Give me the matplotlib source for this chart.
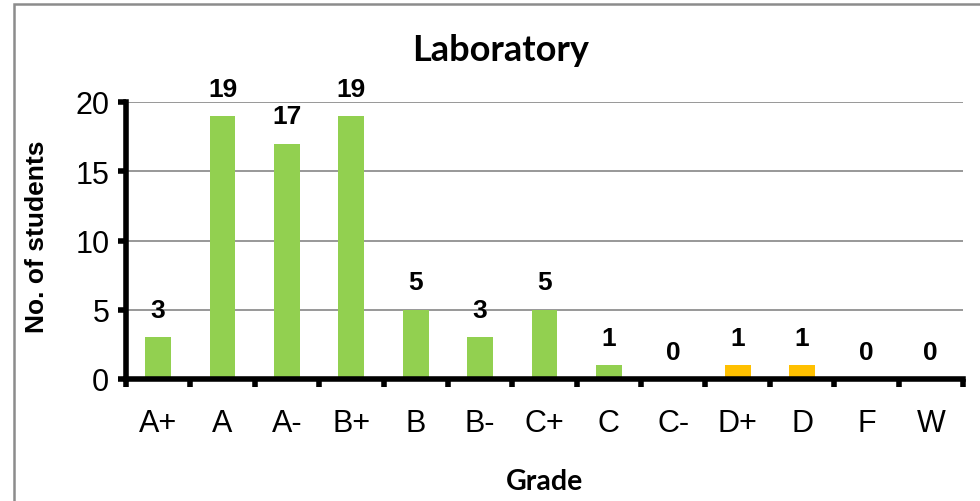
import matplotlib
matplotlib.use("Agg")
import matplotlib.pyplot as plt
from matplotlib.patches import Rectangle
import numpy as np

grades = ["A+", "A", "A-", "B+", "B", "B-", "C+", "C", "C-", "D+", "D", "F", "W"]
students = [3, 19, 17, 19, 5, 3, 5, 1, 0, 1, 1, 0, 0]
bar_colors = ["#92D050"] * 9 + ["#FFC000", "#FFC000"] + ["#92D050", "#92D050"]
yticks = [0, 5, 10, 15, 20]

fig = plt.figure(figsize=(9.8, 5.02), dpi=100)
fig.patch.set_facecolor("white")
fig.patches.append(Rectangle((13.5 / 980, -0.05), 1.2, 1.05 - 4.5 / 502,
                             transform=fig.transFigure, fill=False,
                             edgecolor="#8c8c8c", linewidth=1.8))

ax = fig.add_axes([126 / 980, 1 - 380 / 502, (963 - 126) / 980, (380 - 103) / 502])
x = np.arange(len(grades))
ax.bar(x, students, width=0.40, color=bar_colors, zorder=3)
ax.set_xlim(-0.5, len(grades) - 0.5)
ax.set_ylim(0, 20)

for xi, v in zip(x, students):
    ax.annotate(str(v), (xi, v), xytext=(0, 11), textcoords="offset points",
                ha="center", va="bottom", fontsize=19, fontweight="bold",
                family="Liberation Sans", zorder=4)

ax.set_yticks(yticks)
ax.set_yticklabels([str(t) for t in yticks], fontsize=22, family="Liberation Sans")
ax.yaxis.grid(True, color="#868686", linewidth=1.2, zorder=0)
ax.set_axisbelow(True)

ax.set_xticks(np.arange(-0.5, len(grades), 1.0))
ax.set_xticklabels([])
ax.set_xticks(x, minor=True)
ax.set_xticklabels(grades, minor=True, fontsize=22, family="Liberation Sans")
ax.tick_params(axis="x", which="minor", length=0, pad=21)
ax.tick_params(axis="x", which="major", length=6, width=4, direction="out", color="black")
ax.tick_params(axis="y", which="major", length=6, width=4, direction="out", color="black", pad=6)

for s in ["top", "right"]:
    ax.spines[s].set_visible(False)
for s in ["left", "bottom"]:
    ax.spines[s].set_linewidth(4)
    ax.spines[s].set_color("black")
    ax.spines[s].set_zorder(5)

fig.text(501 / 980, 1 - 61 / 502, "Laboratory", ha="center", va="baseline",
         fontsize=26, fontweight="bold", family="Lato")
fig.text(37 / 980, 1 - 237 / 502, "No. of students", rotation=90, ha="center", va="center",
         fontsize=19, fontweight="bold", family="Liberation Sans")
fig.text(544 / 980, 1 - 490 / 502, "Grade", ha="center", va="baseline",
         fontsize=20.5, fontweight="bold", family="Lato")

fig.savefig("out.png", dpi=100, facecolor="white")
